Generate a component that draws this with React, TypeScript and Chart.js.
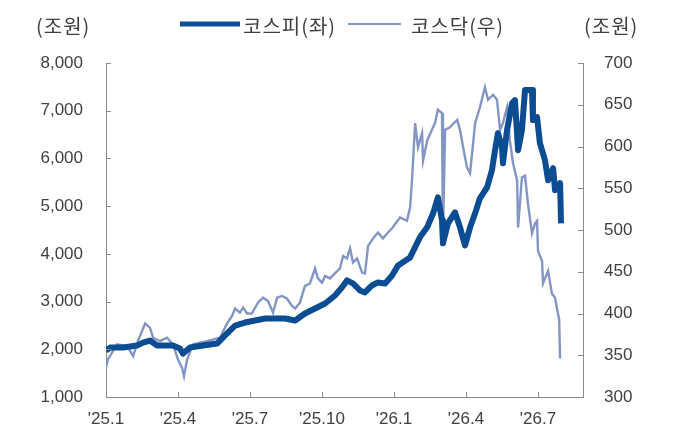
import React, { useEffect, useRef } from 'react';
import { Chart, registerables } from 'chart.js';

Chart.register(...registerables);

// x = months since Jan 2025
const kospiX = [0, 0.17, 0.71, 1.29, 1.54, 1.83, 2.13, 2.79, 3.08, 3.21, 3.5, 4.04, 4.63, 4.96, 5.38, 5.79, 6.21, 6.63, 7.04, 7.46,
  7.88, 8.29, 8.71, 9.13, 9.54, 9.83, 10.04, 10.29, 10.58, 10.79, 11.08, 11.33, 11.63, 11.92, 12.17, 12.67, 13.08, 13.38, 13.63, 13.83,
  14.0, 14.04, 14.25, 14.54, 14.75, 14.96, 15.17, 15.38, 15.58, 15.88, 16.08, 16.21, 16.33, 16.5, 16.54, 16.71, 16.92, 17.04, 17.17, 17.33,
  17.46, 17.75, 17.79, 17.96, 18.08, 18.29, 18.42, 18.63, 18.71, 18.92, 18.96];
const kospi = [1970, 2036, 2036, 2078, 2141, 2183, 2078, 2078, 2015, 1910, 2036, 2078, 2120, 2290, 2498, 2561, 2603, 2645, 2645, 2645,
  2603, 2750, 2855, 2960, 3128, 3296, 3443, 3380, 3233, 3191, 3338, 3401, 3380, 3548, 3758, 3926, 4346, 4556, 4850, 5186,
  4703, 4220, 4640, 4871, 4556, 4178, 4556, 4850, 5165, 5396, 5753, 6173, 6530, 6236, 5900, 6593, 7160, 7223, 6173, 6593,
  7433, 7433, 6803, 6866, 6320, 5963, 5543, 5795, 5333, 5480, 4640];

const kosdaqX = [0, 0.08, 0.46, 0.88, 1.13, 1.33, 1.63, 1.83, 1.96, 2.25, 2.54, 2.79, 3.0, 3.17, 3.25, 3.38, 3.63, 4.21, 4.75, 5.04,
  5.25, 5.38, 5.58, 5.71, 5.88, 6.08, 6.33, 6.54, 6.75, 6.96, 7.13, 7.33, 7.54, 7.75, 7.88, 8.08, 8.29, 8.5, 8.71, 8.83,
  9.0, 9.13, 9.33, 9.54, 9.75, 9.88, 10.04, 10.17, 10.29, 10.46, 10.67, 10.79, 10.92, 11.13, 11.33, 11.54, 11.75, 11.92,
  12.25, 12.54, 12.67, 12.75, 12.88, 13.0, 13.17, 13.21, 13.38, 13.58, 13.71, 13.83, 14.0, 14.04, 14.13, 14.33, 14.63,
  14.75, 14.88, 15.04, 15.17, 15.38, 15.58, 15.79, 15.92, 16.13, 16.29, 16.42, 16.54, 16.71, 16.83, 16.96, 17.13, 17.17, 17.33, 17.46, 17.58,
  17.75, 17.88, 17.96, 18.0, 18.17, 18.21, 18.42, 18.58, 18.71, 18.83, 18.88, 18.92];
const kosdaq = [335, 345, 363, 361, 349, 367, 388, 383, 371, 367, 371, 363, 345, 335, 325, 345, 363, 367, 371, 388,
  397, 406, 401, 407, 400, 400, 413, 419, 415, 401, 419, 421, 418, 409, 406, 413, 433, 436, 454, 442,
  437, 445, 442, 448, 454, 469, 466, 478, 461, 466, 449, 448, 481, 490, 497, 490, 497, 502,
  515, 511, 527, 559, 628, 599, 616, 583, 607, 620, 628, 644, 640, 493, 620, 623, 632,
  620, 599, 575, 568, 628, 647, 671, 656, 662, 656, 620, 628, 647, 607, 580, 559, 503, 563, 565, 532,
  496, 508, 511, 475, 463, 436, 451, 424, 419, 400, 394, 346];

const xTicks = [0, 3, 6, 9, 12, 15, 18];
const xTickLabels = ["'25.1", "'25.4", "'25.7", "'25.10", "'26.1", "'26.4", "'26.7"];
const leftTicks = [1000, 2000, 3000, 4000, 5000, 6000, 7000, 8000];
const rightTicks = [300, 350, 400, 450, 500, 550, 600, 650, 700];

const KOSPI_COLOR = '#0c4c93';
const KOSDAQ_COLOR = '#8396c3';
const AXIS_COLOR = '#8a8a8a';
const TEXT_COLOR = '#404040';
const NUM_FONT = '"Liberation Sans", Arial, sans-serif';
const KR_FONT = '"Noto Sans CJK KR", "Noto Sans", sans-serif';

const overlay = {
  id: 'overlay',
  afterDraw(chart: any) {
    const { ctx, chartArea, scales } = chart;
    ctx.save();
    ctx.strokeStyle = AXIS_COLOR;
    ctx.lineWidth = 1;
    ctx.beginPath();
    leftTicks.forEach((v) => {
      const y = Math.round(scales.y.getPixelForValue(v)) + 0.5;
      ctx.moveTo(chartArea.left, y);
      ctx.lineTo(chartArea.left + 5, y);
    });
    rightTicks.forEach((v) => {
      const y = Math.round(scales.y2.getPixelForValue(v)) + 0.5;
      ctx.moveTo(chartArea.right - 5, y);
      ctx.lineTo(chartArea.right, y);
    });
    xTicks.forEach((v) => {
      const x = Math.round(scales.x.getPixelForValue(v)) + 0.5;
      ctx.moveTo(x, chartArea.bottom - 5);
      ctx.lineTo(x, chartArea.bottom);
    });
    ctx.stroke();

    // units
    ctx.fillStyle = TEXT_COLOR;
    ctx.font = `20px ${KR_FONT}`;
    (ctx as any).letterSpacing = '1px';
    ctx.textBaseline = 'middle';
    ctx.textAlign = 'left';
    ctx.fillText('(조원)', 36, 26);
    ctx.fillText('(조원)', 584, 26);

    // legend
    ctx.lineCap = 'butt';
    ctx.strokeStyle = KOSPI_COLOR;
    ctx.lineWidth = 5;
    ctx.beginPath();
    ctx.moveTo(180, 24);
    ctx.lineTo(240, 24);
    ctx.stroke();
    ctx.fillText('코스피(좌)', 243, 26);

    ctx.strokeStyle = KOSDAQ_COLOR;
    ctx.lineWidth = 2;
    ctx.beginPath();
    ctx.moveTo(348, 24);
    ctx.lineTo(401, 24);
    ctx.stroke();
    ctx.fillText('코스닥(우)', 411, 26);
    ctx.restore();
  },
};

const App: React.FC = () => {
  const canvasRef = useRef<HTMLCanvasElement>(null);
  const chartRef = useRef<Chart | null>(null);

  useEffect(() => {
    document.body.style.margin = '0';
    if (!canvasRef.current) return;
    if (chartRef.current) chartRef.current.destroy();

    chartRef.current = new Chart(canvasRef.current, {
      type: 'line',
      data: {
        datasets: [
          {
            label: '코스피(좌)',
            data: kospiX.map((x, i) => ({ x, y: kospi[i] })),
            borderColor: KOSPI_COLOR,
            borderWidth: 6,
            pointRadius: 0,
            tension: 0,
            borderJoinStyle: 'round',
            yAxisID: 'y',
            order: 1,
          },
          {
            label: '코스닥(우)',
            data: kosdaqX.map((x, i) => ({ x, y: kosdaq[i] })),
            borderColor: KOSDAQ_COLOR,
            borderWidth: 2.4,
            pointRadius: 0,
            tension: 0,
            yAxisID: 'y2',
            order: 2,
          },
        ],
      },
      options: {
        responsive: false,
        animation: false,
        devicePixelRatio: 1,
        layout: { padding: { top: 63, left: 0, right: 0, bottom: 0 } },
        plugins: { legend: { display: false }, tooltip: { enabled: false } },
        scales: {
          x: {
            type: 'linear',
            min: 0,
            max: 19.875,
            afterBuildTicks: (s: any) => { s.ticks = xTicks.map((v) => ({ value: v })); },
            afterFit: (s: any) => { s.height = 43; },
            grid: { drawOnChartArea: false, drawTicks: false },
            border: { color: AXIS_COLOR, width: 1 },
            ticks: {
              padding: 12,
              color: TEXT_COLOR,
              font: { family: NUM_FONT, size: 17 },
              maxRotation: 0,
              autoSkip: false,
              callback: (v: any) => xTickLabels[xTicks.indexOf(Number(v))] ?? '',
            },
          },
          y: {
            position: 'left',
            min: 1000,
            max: 8000,
            afterFit: (s: any) => { s.width = 106; },
            grid: { drawOnChartArea: false, drawTicks: false },
            border: { color: AXIS_COLOR, width: 1 },
            ticks: {
              stepSize: 1000,
              padding: 23,
              color: TEXT_COLOR,
              font: { family: NUM_FONT, size: 17 },
              callback: (v: any) => Number(v).toLocaleString('en-US'),
            },
          },
          y2: {
            position: 'right',
            min: 300,
            max: 700,
            afterFit: (s: any) => { s.width = 103; },
            grid: { drawOnChartArea: false, drawTicks: false },
            border: { color: AXIS_COLOR, width: 1 },
            ticks: {
              stepSize: 50,
              padding: 21,
              color: TEXT_COLOR,
              font: { family: NUM_FONT, size: 17 },
            },
          },
        },
      },
      plugins: [overlay],
    } as any);

    return () => {
      if (chartRef.current) {
        chartRef.current.destroy();
        chartRef.current = null;
      }
    };
  }, []);

  return (
    <div style={{ width: 686, height: 440, background: '#fff' }}>
      <canvas ref={canvasRef} width={686} height={440} />
    </div>
  );
};

export default App;
